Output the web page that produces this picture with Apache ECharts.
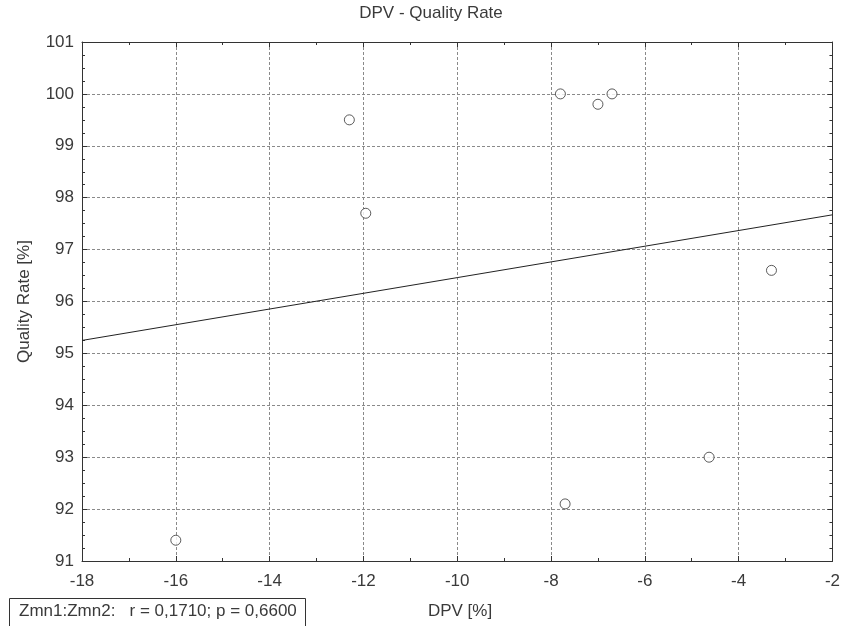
<!DOCTYPE html>
<html><head><meta charset="utf-8">
<script src="https://cdn.jsdelivr.net/npm/echarts@6/dist/echarts.min.js"></script>
<style>html,body{margin:0;padding:0;background:#fff}#c{width:843px;height:626px}</style>
</head><body><div id="c"></div>
<script>
const dpv = [-16.0, -12.3, -11.95, -7.8, -7.0, -6.7, -7.7, -4.63, -3.3];
const quality = [91.4, 99.5, 97.7, 100.0, 99.8, 100.0, 92.1, 93.0, 96.6];
const fitX = [-18, -2];
const fitY = [95.25, 97.67];
const titleText = 'DPV - Quality Rate';
const xName = 'DPV [%]';
const yName = 'Quality Rate [%]';
const statText = 'Zmn1:Zmn2:   r = 0,1710; p = 0,6600';

const font = 'Liberation Sans, Arial, sans-serif';
const fs = 17;
const txtC = '#3a3a3a';
const pts = dpv.map((x, i) => [x, quality[i]]);
const fit = fitX.map((x, i) => [x, fitY[i]]);
const lineC = '#333';
const gridLine = {show: true, lineStyle: {color: '#8a8a8a', type: [3, 2], width: 1}};

const chart = echarts.init(document.getElementById('c'), null, {renderer: 'canvas'});
chart.setOption({
  backgroundColor: '#fff',
  animation: false,
  grid: {left: 82, right: 7, top: 42, bottom: 65},
  xAxis: [{
    type: 'value', min: -18, max: -2, interval: 2,
    axisLine: {show: true, onZero: false, lineStyle: {color: lineC, width: 1}},
    axisTick: {show: true, inside: true, length: 5, lineStyle: {color: lineC}},
    minorTick: {show: true, splitNumber: 2, length: 3, lineStyle: {color: lineC}},
    axisLabel: {fontFamily: font, fontSize: fs, color: txtC, margin: 12},
    splitLine: gridLine
  }, {
    type: 'value', position: 'top', min: -18, max: -2, interval: 2,
    axisLine: {show: true, onZero: false, lineStyle: {color: lineC, width: 1}},
    axisTick: {show: true, inside: true, length: 5, lineStyle: {color: lineC}},
    minorTick: {show: true, splitNumber: 2, length: 3, lineStyle: {color: lineC}},
    axisLabel: {show: false}, splitLine: {show: false}
  }],
  yAxis: [{
    type: 'value', min: 91, max: 101, interval: 1,
    name: yName, nameLocation: 'middle', nameGap: 49, nameRotate: 90,
    nameTextStyle: {fontFamily: font, fontSize: fs, color: txtC},
    axisLine: {show: true, onZero: false, lineStyle: {color: lineC, width: 1}},
    axisTick: {show: true, inside: true, length: 5, lineStyle: {color: lineC}},
    minorTick: {show: true, splitNumber: 4, length: 3, lineStyle: {color: lineC}},
    axisLabel: {fontFamily: font, fontSize: fs, color: txtC, margin: 8},
    splitLine: gridLine
  }, {
    type: 'value', position: 'right', min: 91, max: 101, interval: 1,
    axisLine: {show: true, onZero: false, lineStyle: {color: lineC, width: 1}},
    axisTick: {show: true, inside: true, length: 5, lineStyle: {color: lineC}},
    minorTick: {show: true, splitNumber: 4, length: 3, lineStyle: {color: lineC}},
    axisLabel: {show: false}, splitLine: {show: false}
  }],
  series: [{
    type: 'line', data: fit, showSymbol: false, symbol: 'none',
    lineStyle: {color: '#222', width: 1}, silent: true, z: 2
  }, {
    type: 'scatter', data: pts, symbol: 'circle', symbolSize: 10,
    itemStyle: {color: '#fff', borderColor: '#333', borderWidth: 1}, z: 3
  }],
  graphic: [{
    type: 'text', x: 431, y: 5,
    style: {text: titleText, fontFamily: font, fontSize: fs, fill: txtC, textAlign: 'center'}
  }, {
    type: 'rect', shape: {x: 9.5, y: 598.5, width: 296, height: 30},
    style: {fill: '#fff', stroke: '#333', lineWidth: 1}
  }, {
    type: 'text', x: 19, y: 603,
    style: {text: statText, fontFamily: font, fontSize: fs, fill: txtC}
  }, {
    type: 'text', x: 460, y: 603,
    style: {text: xName, fontFamily: font, fontSize: fs, fill: txtC, textAlign: 'center'}
  }]
});
</script></body></html>
